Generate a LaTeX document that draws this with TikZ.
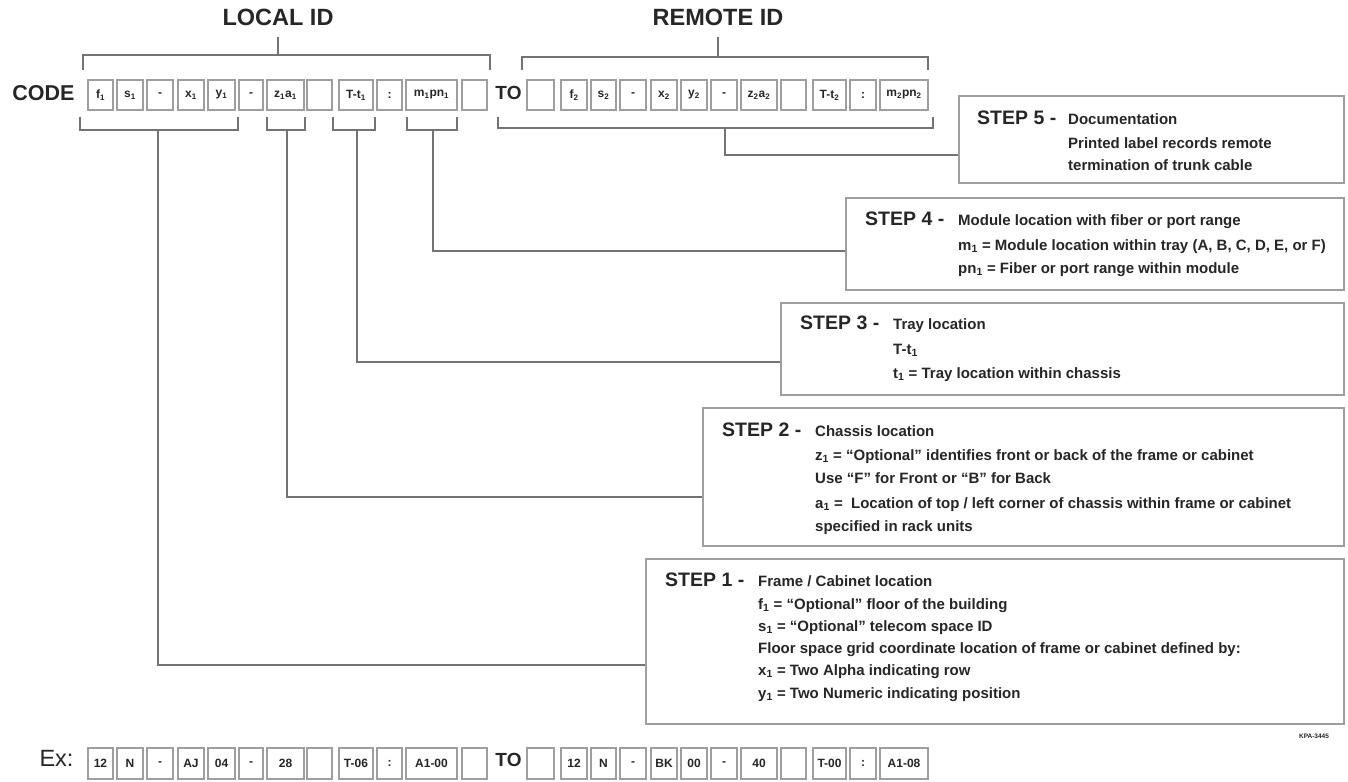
\documentclass[tikz,border=0pt]{standalone}
\usepackage{fontspec}
\setmainfont{Liberation Sans}
\newcommand\sbs[1]{\textsubscript{#1}}
\definecolor{boxgray}{gray}{0.62}
\definecolor{lineg}{gray}{0.45}
\definecolor{txt}{gray}{0.15}
\tikzset{
  cell/.style={draw=boxgray, line width=1.2pt, minimum height=30pt, inner sep=0pt,
    text=txt, font=\fontsize{12}{12}\bfseries\selectfont},
  brk/.style={draw=lineg, line width=1.3pt},
  conn/.style={draw=lineg, line width=1.3pt},
  stepbox/.style={draw=boxgray, line width=1.6pt, fill=white, anchor=north west, inner sep=0pt},
  head/.style={inner sep=0pt, anchor=west, text=txt, text height=0.72em, text depth=0pt,
    font=\fontsize{19.5}{20}\bfseries\selectfont},
  desc/.style={inner sep=0pt, anchor=west, text=txt, text height=0.72em, text depth=0pt,
    font=\fontsize{15}{16}\bfseries\selectfont},
  title/.style={inner sep=0pt, text=txt, text height=0.72em, text depth=0pt,
    font=\fontsize{23.5}{24}\bfseries\selectfont},
}
\begin{document}
\begin{tikzpicture}[x=1pt,y=-1pt]
\useasboundingbox[fill=white] (0,0) rectangle (1348,781);

% titles
\node[title] (lid) at (278,22) {LOCAL ID};
\node[title] (rid) at (718,22) {REMOTE ID};
\node[title, font=\fontsize{21.5}{22}\bfseries\selectfont] (code) at (43.5,97) {CODE};
\node[title, font=\fontsize{19}{20}\bfseries\selectfont] (to1) at (508.5,96) {TO};
\node[title, font=\fontsize{23.5}{24}\selectfont] (ex) at (56.5,763) {Ex:};
\node[title, font=\fontsize{19}{20}\bfseries\selectfont] (to2) at (508.5,763) {TO};
\node[inner sep=0pt, text=txt, font=\fontsize{6.5}{7}\bfseries\selectfont] (kpa) at (1314,736) {KPA-3445};

% code cells, local
\foreach \i/\l/\r/\t in {1/88/113/{f\sbs1}, 2/117/143/{s\sbs1}, 3/147/173/{-}, 4/178/204/{x\sbs1},
  5/208/235/{y\sbs1}, 6/239/263/{-}, 7/267/304/{z\sbs1a\sbs1}, 8/307/332/{},
  9/339/373/{T-t\sbs1}, 10/377/402/{:}, 11/406/457/{m\sbs1pn\sbs1}, 12/462/487/{}}
  \node[cell, minimum width=\r-\l] (t\i) at ({(\l+\r)/2},95) {\t};
% code cells, remote
\foreach \i/\l/\r/\t in {1/527/554/{}, 2/561/587/{f\sbs2}, 3/591/616/{s\sbs2}, 4/620/646/{-},
  5/651/677/{x\sbs2}, 6/681/707/{y\sbs2}, 7/711/737/{-}, 8/741/777/{z\sbs2a\sbs2},
  9/781/806/{}, 10/813/846/{T-t\sbs2}, 11/850/876/{:}, 12/880/928/{m\sbs2pn\sbs2}}
  \node[cell, minimum width=\r-\l] (u\i) at ({(\l+\r)/2},95) {\t};
% example cells, local
\foreach \i/\l/\r/\t in {1/88/113/{12}, 2/117/143/{N}, 3/147/173/{-}, 4/178/204/{AJ},
  5/208/235/{04}, 6/239/263/{-}, 7/267/304/{28}, 8/307/332/{},
  9/339/373/{T-06}, 10/377/402/{:}, 11/406/457/{A1-00}, 12/462/487/{}}
  \node[cell, minimum width=\r-\l, minimum height=31pt] (e\i) at ({(\l+\r)/2},763.5) {\t};
% example cells, remote
\foreach \i/\l/\r/\t in {1/527/554/{}, 2/561/587/{12}, 3/591/616/{N}, 4/620/646/{-},
  5/651/677/{BK}, 6/681/707/{00}, 7/711/737/{-}, 8/741/777/{40},
  9/781/806/{}, 10/813/846/{T-00}, 11/850/876/{:}, 12/880/928/{A1-08}}
  \node[cell, minimum width=\r-\l, minimum height=31pt] (f\i) at ({(\l+\r)/2},763.5) {\t};

% top brackets
\draw[brk] (83,70) |- (490,55) -- (490,70);
\draw[brk] (lid.south |- 0,37) -- (lid.south |- 0,55);
\draw[brk] (522,70) |- (928,57) -- (928,70);
\draw[brk] (rid.south |- 0,37) -- (rid.south |- 0,57);

% bottom brackets
\draw[brk] (80,117) |- (238,130) -- (238,117);
\draw[brk] (267,117) |- (305,130) -- (305,117);
\draw[brk] (333,117) |- (375,130) -- (375,117);
\draw[brk] (407,117) |- (457,130) -- (457,117);
\draw[brk] (498,117) |- (933,128) -- (933,117);
\coordinate (st1) at (158,130);
\coordinate (st2) at (287,130);
\coordinate (st3) at (357,130);
\coordinate (st4) at (433,130);
\coordinate (st5) at (725,128);

% step boxes
\node[stepbox, minimum width=698pt, minimum height=165pt] (step1) at (645,558) {};
\node[stepbox, minimum width=641pt, minimum height=138pt] (step2) at (702,407) {};
\node[stepbox, minimum width=563pt, minimum height=92pt] (step3) at (780,302) {};
\node[stepbox, minimum width=498pt, minimum height=92pt] (step4) at (845,197) {};
\node[stepbox, minimum width=385pt, minimum height=87pt] (step5) at (958,95) {};

% connectors
\draw[conn] (st1) |- (step1.west |- 0,665);
\draw[conn] (st2) |- (step2.west |- 0,497);
\draw[conn] (st3) |- (step3.west |- 0,362);
\draw[conn] (st4) |- (step4.west |- 0,251);
\draw[conn] (st5) |- (step5.west |- 0,155);

% step 5
\node[head] (h5) at (977,121) {STEP 5 -};
\node[desc] (d5a) at (1068,121) {Documentation};
\node[desc] (d5b) at (1068,145) {Printed label records remote};
\node[desc] (d5c) at (1068,167) {termination of trunk cable};
% step 4
\node[head] (h4) at (865,222) {STEP 4 -};
\node[desc] (d4a) at (958,222) {Module location with fiber or port range};
\node[desc] (d4b) at (958,247) {m\sbs1 = Module location within tray (A, B, C, D, E, or F)};
\node[desc] (d4c) at (958,270) {pn\sbs1 = Fiber or port range within module};
% step 3
\node[head] (h3) at (800,326) {STEP 3 -};
\node[desc] (d3a) at (893,326) {Tray location};
\node[desc] (d3b) at (893,351) {T-t\sbs1};
\node[desc] (d3c) at (893,375) {t\sbs1 = Tray location within chassis};
% step 2
\node[head] (h2) at (722,433) {STEP 2 -};
\node[desc] (d2a) at (815,433) {Chassis location};
\node[desc] (d2b) at (815,457) {z\sbs1 = “Optional” identifies front or back of the frame or cabinet};
\node[desc] (d2c) at (815,480) {Use “F” for Front or “B” for Back};
\node[desc] (d2d) at (815,505) {a\sbs1 =\ \ Location of top / left corner of chassis within frame or cabinet};
\node[desc] (d2e) at (815,528) {specified in rack units};
% step 1
\node[head] (h1) at (665,583) {STEP 1 -};
\node[desc] (d1a) at (758,583) {Frame / Cabinet location};
\node[desc] (d1b) at (758,606) {f\sbs1 = “Optional” floor of the building};
\node[desc] (d1c) at (758,628) {s\sbs1 = “Optional” telecom space ID};
\node[desc] (d1d) at (758,650) {Floor space grid coordinate location of frame or cabinet defined by:};
\node[desc] (d1e) at (758,672) {x\sbs1 = Two Alpha indicating row};
\node[desc] (d1f) at (758,695) {y\sbs1 = Two Numeric indicating position};
\end{tikzpicture}
\end{document}
